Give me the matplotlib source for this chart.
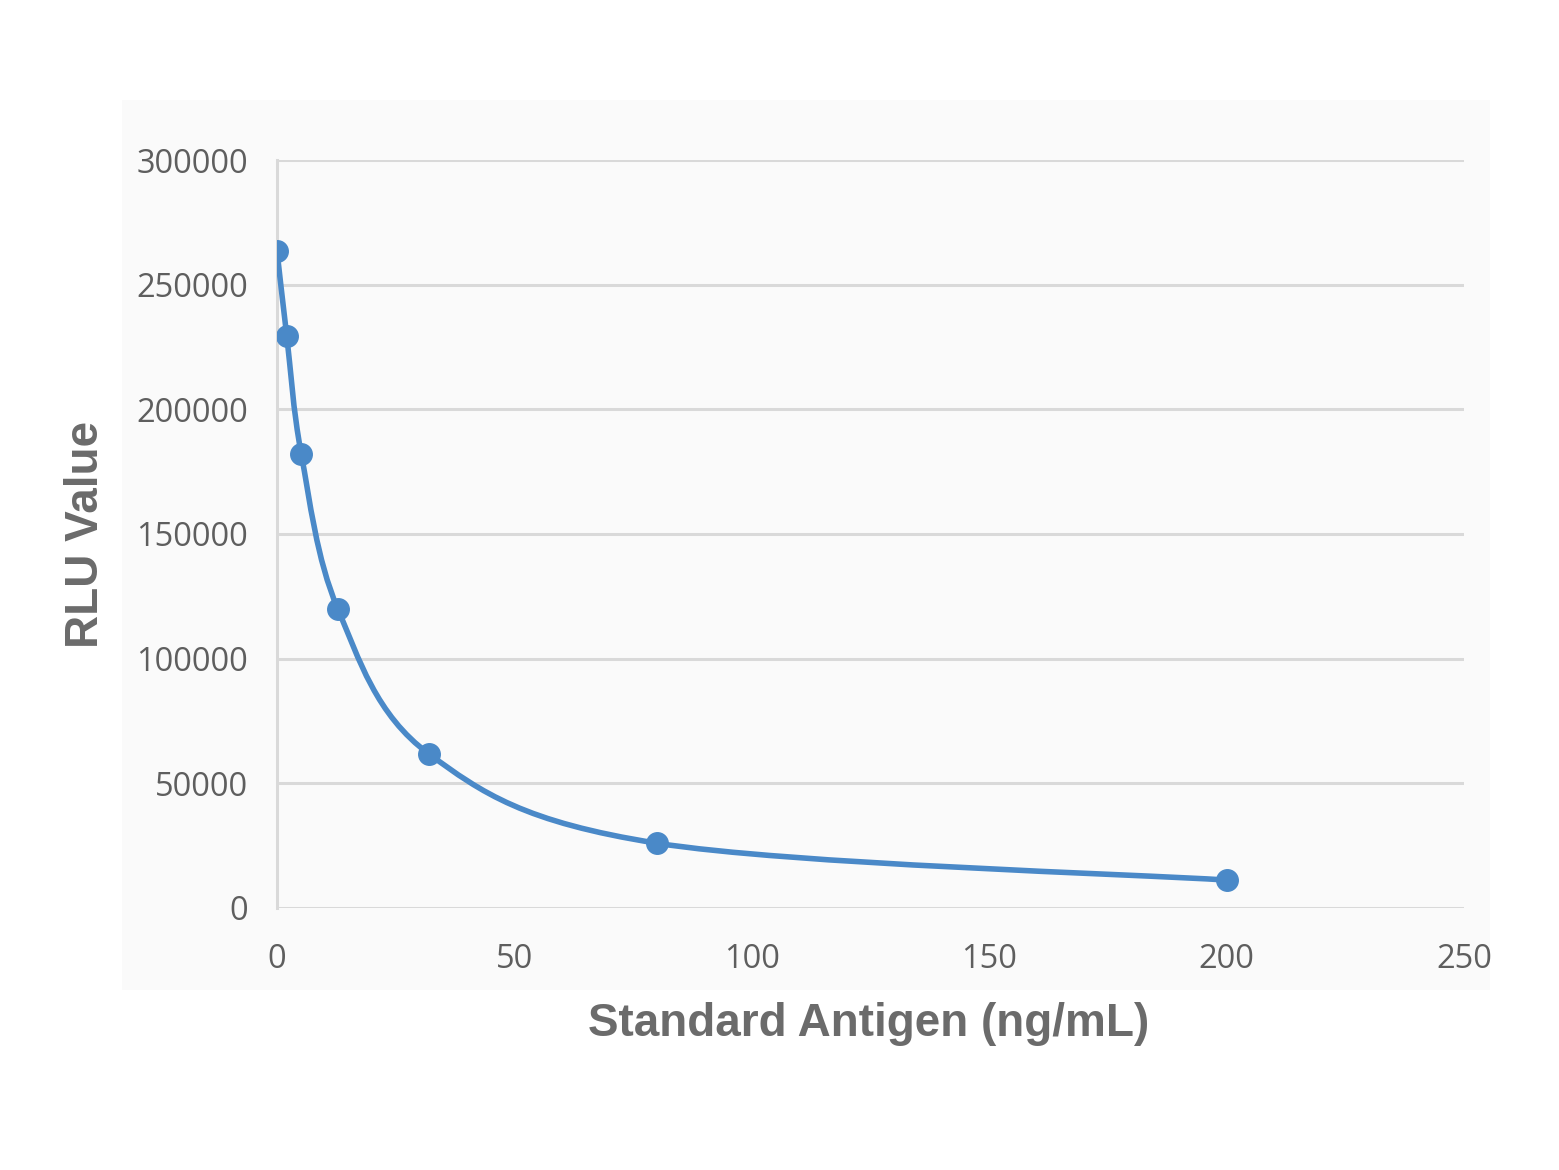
import matplotlib.pyplot as plt
from matplotlib.path import Path
from matplotlib.patches import PathPatch, Rectangle

# standard curve: 2.5-fold dilution series
conc = [0, 2.048, 5.12, 12.8, 32, 80, 200]
rlu = [263500, 229500, 182000, 120000, 61800, 26000, 11200]

x_ticks = [0, 50, 100, 150, 200, 250]
y_ticks = [0, 50000, 100000, 150000, 200000, 250000, 300000]

BLUE = '#4a89c8'
GRID = '#d9d9d9'
TICK = '#5e5e5e'
TEXT = '#6b6b6b'


def smooth_path(xs, ys):
    # Excel-like smoothed line: cubic bezier segments through each point
    pts = list(zip(xs, ys))
    verts = [pts[0]]
    codes = [Path.MOVETO]
    n = len(pts)
    for i in range(n - 1):
        p0 = pts[i - 1] if i > 0 else pts[i]
        p1 = pts[i]
        p2 = pts[i + 1]
        p3 = pts[i + 2] if i + 2 < n else pts[i + 1]
        c1 = (p1[0] + (p2[0] - p0[0]) / 6, p1[1] + (p2[1] - p0[1]) / 6)
        c2 = (p2[0] - (p3[0] - p1[0]) / 6, p2[1] - (p3[1] - p1[1]) / 6)
        verts += [c1, c2, p2]
        codes += [Path.CURVE4] * 3
    return Path(verts, codes)


fig = plt.figure(figsize=(15.59, 11.7), dpi=100)
# faint grey chart area behind the plot
fig.add_artist(Rectangle((122 / 1559, 1 - 990 / 1170), 1368 / 1559, 890 / 1170,
                         transform=fig.transFigure, facecolor='#fafafa',
                         edgecolor='none', zorder=-5))
ax = fig.add_axes([277 / 1559, 1 - 908 / 1170, 1187 / 1559, 748 / 1170])
ax.set_facecolor('none')

ax.add_patch(PathPatch(smooth_path(conc, rlu), facecolor='none', edgecolor=BLUE,
                       linewidth=4, capstyle='round', zorder=3))
ax.plot(conc, rlu, linestyle='none', marker='o', markersize=15.5, color=BLUE, zorder=4)

ax.set_xlim(0, 250)
ax.set_ylim(0, 300000)
ax.set_xticks(x_ticks)
ax.set_yticks(y_ticks)
ax.set_xticklabels([str(v) for v in x_ticks])
ax.set_yticklabels([str(v) for v in y_ticks])
ax.tick_params(length=0, labelsize=23.5, labelcolor=TICK, labelfontfamily='Open Sans')
ax.tick_params(axis='y', pad=21)
ax.tick_params(axis='x', pad=25)

ax.grid(axis='y', color=GRID, linewidth=2.2)
ax.set_axisbelow(True)
for side in ['top', 'right', 'bottom']:
    ax.spines[side].set_visible(False)
ax.spines['left'].set_color(GRID)
ax.spines['left'].set_linewidth(2.2)

ax.set_xlabel('Standard Antigen (ng/mL)', fontsize=33, fontweight='bold',
              color=TEXT, family='Liberation Sans')
ax.set_ylabel('RLU Value', fontsize=33, fontweight='bold',
              color=TEXT, family='Liberation Sans')
ax.xaxis.set_label_coords(0.4985, -0.126)
ax.yaxis.set_label_coords(-0.142, 0.5)

fig.savefig('out.png', dpi=100)
